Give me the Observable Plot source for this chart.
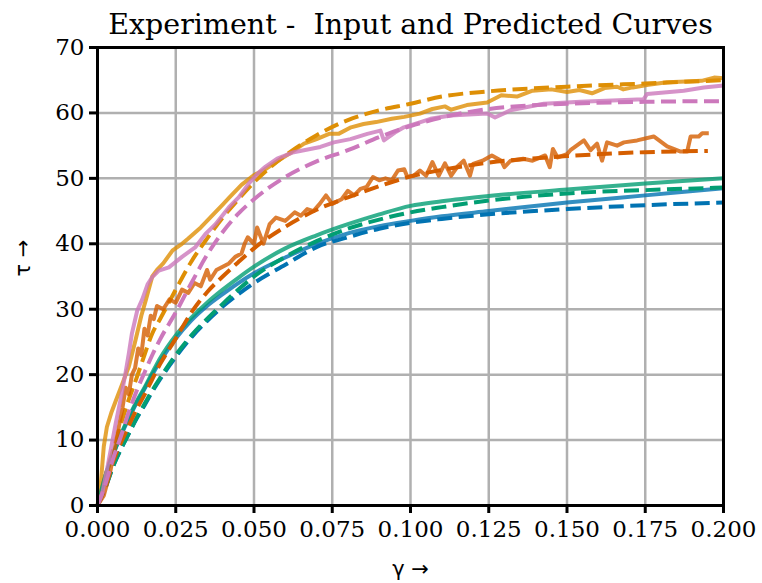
<!DOCTYPE html>
<html>
<head>
<meta charset="utf-8">
<script src="https://cdn.jsdelivr.net/npm/d3@7"></script>
<script src="https://cdn.jsdelivr.net/npm/@observablehq/plot@0.6"></script>
<style>
  html, body { margin: 0; padding: 0; background: #fff; }
  svg text { white-space: pre; }
</style>
</head>
<body>
<div id="chart"></div>
<script>
// Shear strain γ and stress τ: measured input curves (solid) and model predictions (dashed)

const gammaGrid = [0, .0025, .005, .0075, .01, .0125, .015, .0175, .02, .025, .03, .035, .04, .045, .05, .06, .07, .08, .09, .1, .11, .125, .15, .175, .2];

const tauBlueIn = [0, 4.5, 7.8, 10.7, 13.3, 15.7, 17.8, 20, 22, 25.5, 28.3, 30.5, 32.3, 34, 35.5, 37.9, 40, 41.6, 42.7, 43.5, 44.2, 45, 46.3, 47.4, 48.5];
const tauBluePred = [0, 2.7, 6, 8.6, 11, 13.3, 15.3, 17.4, 19.3, 22.7, 25.7, 28.2, 30.4, 32.3, 34, 36.8, 39.5, 41, 42.3, 43.2, 43.8, 44.5, 45.3, 45.9, 46.3];

const tauGreenIn = [0, 4.5, 7.8, 10.9, 13.5, 15.9, 18, 20.3, 22.5, 26, 28.7, 31, 33, 34.8, 36.5, 39.3, 41.3, 43, 44.5, 45.8, 46.5, 47.3, 48.3, 49.2, 50];
const tauGreenPred = [0, 2.7, 6, 8.7, 11, 13.4, 15.5, 17.6, 19.5, 23, 26, 28.5, 30.8, 33, 35, 38, 40.4, 42.3, 43.7, 44.8, 45.6, 46.6, 47.7, 48.2, 48.6];

const tauOrangePred = [0, 4.5, 8.5, 12.5, 16.2, 19.5, 23, 26.3, 28.5, 33, 37.3, 40.8, 44, 46.8, 49.4, 53.5, 56.6, 58.9, 60.4, 61.4, 62.5, 63.3, 64, 64.5, 65];
const tauPinkPred = [0, 3.2, 7.2, 10.6, 14.3, 17.5, 20.3, 23, 25.4, 29.5, 34, 38.3, 41.8, 44.6, 46.8, 50.2, 52.6, 54.3, 56.3, 58, 59.3, 60.6, 61.4, 61.7, 61.8];

const gammaRedPred = [0, .0025, .005, .0075, .01, .0125, .015, .0175, .02, .025, .03, .035, .04, .045, .05, .06, .07, .08, .09, .1, .11, .125, .15, .175, .195];
const tauRedPred = [0, 3, 6.7, 9.6, 12.2, 14.7, 16.9, 19.3, 21.6, 25.5, 29.5, 32.6, 35, 37.2, 39.3, 42.6, 45.2, 47.1, 48.8, 50.3, 51.3, 52.4, 53.4, 54, 54.2];

const gammaRedIn = [
  0, .002, .004, .006, .008, .009, .010, .011, .012, .013,
  .014, .015, .016, .017, .018, .019, .021, .023, .025, .027,
  .029, .031, .033, .035, .036, .038, .040, .042, .044, .046,
  .047, .048, .050, .051, .053, .055, .057, .060, .063, .065,
  .067, .069, .071, .073, .075, .078, .080, .082, .084, .086,
  .088, .090, .092, .094, .096, .098, .099, .101, .103, .105,
  .107, .109, .111, .113, .115, .117, .119, .120, .123, .126,
  .129, .130, .132, .136, .139, .143, .1445, .1455, .147, .150,
  .1511, .1554, .1575, .1596, .1612, .1628, .166, .1682, .1724, .1777,
  .182, .1863, .1884, .1895, .1921, .1932, .1953];
const tauRedIn = [
  0, 1.5, 5, 10, 15, 18, 17, 20, 21, 24,
  23, 27, 26, 29, 28.5, 30.5, 30, 31.5, 31, 33,
  32.5, 34, 33.5, 36, 34.5, 36, 36.5, 37, 38, 38.5,
  40, 41, 40, 42.5, 40, 43, 44, 43.5, 44.8, 44.3,
  45.3, 45, 46.1, 47.4, 46.1, 46.8, 48.1, 47.4, 48.4, 48.7,
  50.2, 49.7, 50, 49.7, 51.2, 51.4, 50.2, 50.4, 51.2, 50.4,
  52.5, 50.4, 52.3, 50.4, 51.8, 52.7, 50.4, 52.2, 52.7, 53.5,
  52.7, 51.7, 52.7, 53, 52.7, 53.5, 51.7, 54.5, 53.2, 53.7,
  54.3, 55.8, 54.3, 55.3, 52.7, 55.5, 55, 55.5, 55.8, 56.4,
  54.9, 54.1, 54.1, 56.4, 56.4, 56.9, 56.9];

const gammaOrangeIn = [
  0, .001, .002, .003, .0045, .006, .008, .01, .012, .014,
  .0155, .0175, .019, .021, .024, .027, .029, .033, .036, .04,
  .042, .046, .05, .053, .057, .062, .066, .07, .074, .077,
  .081, .085, .089, .094, .098, .103, .107, .111, .113, .118,
  .1245, .129, .134, .139, .145, .15, .154, .158, .162, .166,
  .168, .171, .176, .182, .188, .193, .197, .2];
const tauOrangeIn = [
  0, 3, 9, 12, 14.3, 16.2, 18.7, 21.2, 25, 29,
  31.5, 35, 36, 37, 39, 40, 40.8, 42.5, 44, 46,
  47, 49, 50.5, 51.2, 52.5, 54, 55.3, 56, 56.8, 56.8,
  57.8, 58.3, 58.6, 59.1, 59.4, 59.9, 60.6, 61, 60.5, 61.2,
  61.6, 62.7, 62.5, 63.4, 63.6, 63.2, 63.5, 63, 63.8, 64,
  63.6, 63.9, 64.3, 64.7, 64.8, 64.9, 65.4, 65.3];

const gammaPinkIn = [
  0, .0015, .0036, .0058, .0075, .0089, .01, .011, .0127, .0143,
  .016, .0175, .0196, .0228, .027, .0313, .0345, .0377, .042, .0451,
  .0483, .0515, .0537, .0574, .0627, .0712, .0755, .0808, .0862, .0904,
  .0915, .095, .0979, .1032, .1064, .1128, .1245, .127, .1319, .1426,
  .1543, .1745, .1756, .1873, .1937, .2];
const tauPinkIn = [
  0, 1.8, 6.9, 12.5, 16.5, 20.1, 23.2, 26.3, 29.8, 31.5,
  33.8, 34.9, 35.9, 36.4, 38, 39.5, 41.5, 43, 45.6, 47.1,
  49.2, 50.9, 51.8, 53, 54, 54.8, 55.5, 56, 56.8, 57.3,
  55.8, 57, 57.8, 58.6, 59.1, 59.6, 59.9, 59.3, 60.4, 61.4,
  61.7, 62.1, 62.9, 63.4, 63.9, 64.2];

const xTicks = [0, 0.025, 0.05, 0.075, 0.1, 0.125, 0.15, 0.175, 0.2];
const yTicks = [0, 10, 20, 30, 40, 50, 60, 70];

const titleText = "Experiment -  Input and Predicted Curves";
const xLabel = "γ →";
const yLabel = "τ →";

const zip = (gs, ts) => gs.map((g, i) => ({g, t: ts[i]}));

// palette order: blue, orange, green, red, pink
const series = [
  {color: "#0173b2", input: zip(gammaGrid, tauBlueIn), inCurve: "monotone-x", pred: zip(gammaGrid, tauBluePred)},
  {color: "#de8f05", input: zip(gammaOrangeIn, tauOrangeIn), inCurve: "linear", pred: zip(gammaGrid, tauOrangePred)},
  {color: "#029e73", input: zip(gammaGrid, tauGreenIn), inCurve: "monotone-x", pred: zip(gammaGrid, tauGreenPred)},
  {color: "#d55e00", input: zip(gammaRedIn, tauRedIn), inCurve: "linear", pred: zip(gammaRedPred, tauRedPred)},
  {color: "#cc78bc", input: zip(gammaPinkIn, tauPinkIn), inCurve: "linear", pred: zip(gammaGrid, tauPinkPred)}
];

const lineMarks = series.flatMap(s => [
  Plot.line(s.input, {x: "g", y: "t", stroke: s.color, strokeWidth: 4, strokeOpacity: 0.8,
    curve: s.inCurve, strokeLinejoin: "round", strokeLinecap: "butt"}),
  Plot.line(s.pred, {x: "g", y: "t", stroke: s.color, strokeWidth: 4, strokeOpacity: 1,
    curve: "monotone-x", strokeDasharray: "15,6.5", strokeLinecap: "butt"})
]);

const serif = "DejaVu Serif";

const chart = Plot.plot({
  width: 762,
  height: 583,
  marginLeft: 97,
  marginRight: 39,
  marginTop: 47,
  marginBottom: 78,
  style: {background: "#fff", color: "black"},
  x: {domain: [0, 0.2]},
  y: {domain: [0, 70]},
  marks: [
    Plot.gridX(xTicks, {stroke: "#b0b0b0", strokeOpacity: 1, strokeWidth: 2.5}),
    Plot.gridY(yTicks, {stroke: "#b0b0b0", strokeOpacity: 1, strokeWidth: 2.5}),
    ...lineMarks,
    Plot.frame({stroke: "black", strokeWidth: 3}),
    Plot.axisX(xTicks, {tickSize: 8, strokeWidth: 3, tickPadding: 7, fontSize: 23, fontFamily: serif,
      tickFormat: d3.format(".3f"), label: null, fill: "black", stroke: "black"}),
    Plot.axisY(yTicks, {tickSize: 8, strokeWidth: 3, tickPadding: 5, fontSize: 23, fontFamily: serif,
      tickFormat: d => String(d), label: null, fill: "black", stroke: "black"}),
    Plot.text([titleText], {frameAnchor: "top", dy: -14, lineAnchor: "bottom", fontSize: 28.5,
      fontFamily: serif, fill: "black"}),
    Plot.text([xLabel], {frameAnchor: "bottom", dy: 70, lineAnchor: "bottom", fontSize: 21,
      fontFamily: "DejaVu Sans", fill: "black"}),
    Plot.text([yLabel], {frameAnchor: "left", dx: -74, rotate: -90, fontSize: 21,
      fontFamily: "DejaVu Sans", fill: "black"})
  ]
});

document.getElementById("chart").appendChild(chart);
</script>
</body>
</html>
